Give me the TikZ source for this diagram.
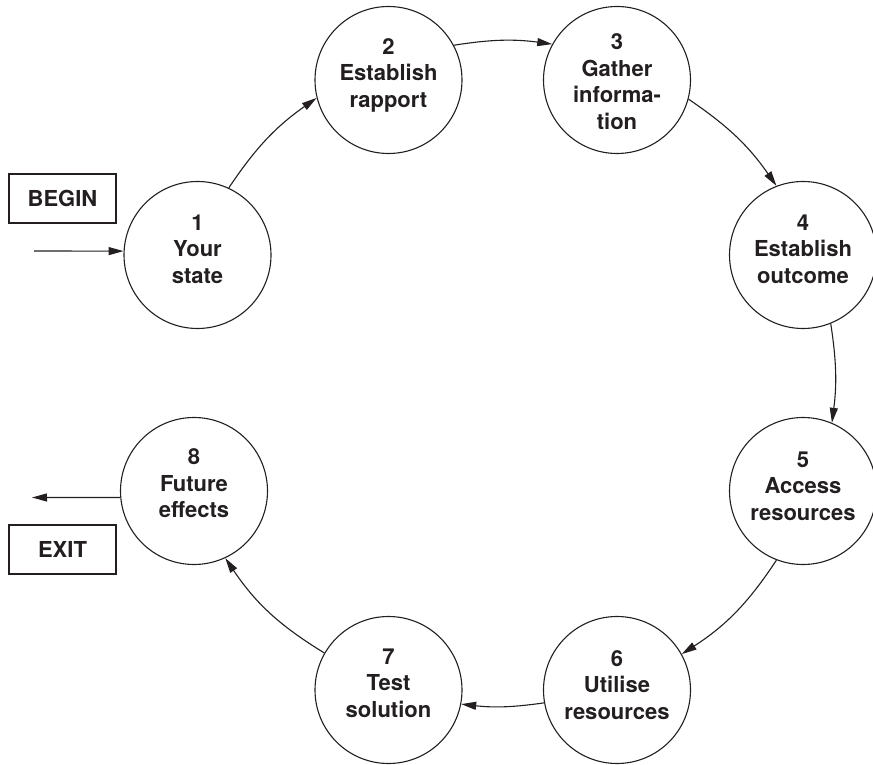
\documentclass[tikz,border=0pt]{standalone}
\usepackage{fontspec}
\setmainfont{TeX Gyre Heros}
\usetikzlibrary{arrows.meta}
\definecolor{ink}{RGB}{35,31,32}
\begin{document}
\begin{tikzpicture}[x=1pt,y=1pt,
  stage/.style={circle,draw=ink,line width=1.1pt,minimum size=147pt,inner sep=0pt},
  lbl/.style={font=\bfseries\fontsize{22}{26.5}\selectfont,align=center,text=ink,inner sep=0pt},
  conn/.style={draw=ink,line width=1.1pt,-{Triangle[length=15pt,width=8pt]}},
  tagbox/.style={draw=ink,line width=1.1pt,minimum width=107pt,minimum height=49pt,inner sep=0pt,text=ink,font=\bfseries\fontsize{22}{26.5}\selectfont}]
\useasboundingbox (0,0) rectangle (873,764);

\node[stage,label={[lbl,yshift=6pt]center:{1\\Your\\state}}] (n1) at (197.5,509) {};
\node[stage,label={[lbl,yshift=5pt]center:{2\\Establish\\rapport}}] (n2) at (388.5,684) {};
\node[stage,label={[lbl,yshift=-1.5pt]center:{3\\Gather\\informa-\\tion}}] (n3) at (617,684) {};
\node[stage,label={[lbl,yshift=6pt]center:{4\\Establish\\outcome}}] (n4) at (803,509) {};
\node[stage,label={[lbl,yshift=5pt]center:{5\\Access\\resources}}] (n5) at (803,273) {};
\node[stage,label={[lbl,yshift=5pt]center:{6\\Utilise\\resources}}] (n6) at (617,74) {};
\node[stage,label={[lbl,yshift=7pt]center:{7\\Test\\solution}}] (n7) at (388.5,74) {};
\node[stage,label={[lbl,yshift=7.5pt]center:{8\\Future\\effects}}] (n8) at (194,273) {};

\node[tagbox] (begin) at (62.5,565.5) {BEGIN};
\node[tagbox] (exit) at (62.5,214.5) {EXIT};

\coordinate (bin) at (34,513);
\coordinate (eout) at (32,266.5);

\draw[conn] (bin) -- (n1.177);
\draw[conn] (n1.65.5) to[bend left=10.5] (n2.194.5);
\draw[conn] (n2.28.5) to[bend left=8.3] (n3.151.7);
\draw[conn] (n3.-15) to[bend left=10.5] (n4.111.8);
\draw[conn] (n4.-68.5) to[bend left=8] (n5.67);
\draw[conn] (n5.249.4) to[bend left=11.8] (n6.29.6);
\draw[conn] (n6.190.7) to[bend left=7.3] (n7.-11.7);
\draw[conn] (n7.150.4) to[bend left=12.3] (n8.-65);
\draw[conn] (n8.185.5) -- (eout);
\end{tikzpicture}
\end{document}
